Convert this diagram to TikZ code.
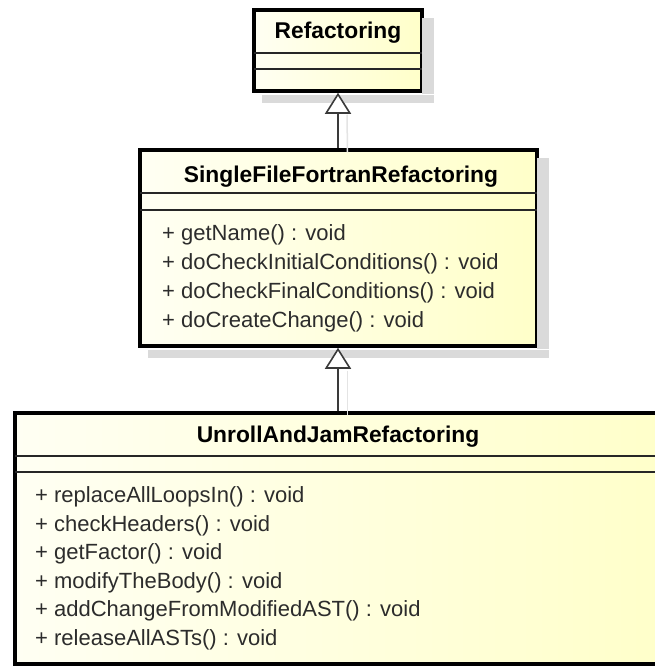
\documentclass[tikz,border=0pt]{standalone}
\usepackage{fontspec}
\setmainfont{Liberation Sans}
\usetikzlibrary{arrows.meta}

\definecolor{boxlight}{HTML}{FFFFF3}
\definecolor{boxdeep}{HTML}{FFFFC9}
\definecolor{shadowgray}{HTML}{DADADA}
\definecolor{faintgray}{HTML}{E4E4E4}
\definecolor{methtext}{HTML}{2C2C2C}
\definecolor{linkgray}{HTML}{3A3A3A}

\tikzset{
  classbox/.style={draw=black, line width=3.5pt, inner sep=0pt,
    left color=boxlight, right color=boxdeep},
  boxshadow/.style={fill=shadowgray},
  sepline/.style={draw=black!85, line width=1.4pt},
  classname/.style={font=\fontsize{22.8}{26}\selectfont\bfseries, text=black, inner sep=0pt},
  member/.style={font=\fontsize{22}{26}\selectfont, text=methtext, inner sep=0pt, anchor=west},
  generalization/.style={draw=linkgray, line width=2pt,
    -{Triangle[open, length=21pt, width=26pt, line width=1.6pt, fill=white]}},
  linkshadow/.style={draw=faintgray, line width=1.5pt}
}

\begin{document}
\begin{tikzpicture}[x=1pt, y=-1pt]
  \useasboundingbox (0,0) rectangle (655,667);
  \clip (0,0) rectangle (655,667);
  \fill[white] (0,0) rectangle (655,667);

  % class boxes
  \node[classbox, minimum width=168pt, minimum height=81pt] (ref) at (338,50.5) {};
  \node[classbox, minimum width=397pt, minimum height=196pt] (sf) at (338.5,248) {};
  \node[classbox, minimum width=660pt, minimum height=251pt] (ur) at (345,538.5) {};

  % drop shadows along the right and lower edges of the two upper boxes
  \fill[boxshadow] ([shift={(10,10)}]ref.north east) rectangle ([shift={(-1.5,1.5)}]ref.south east);
  \fill[boxshadow] ([shift={(10,1.8)}]ref.south west) rectangle ([shift={(10,10)}]ref.south east);
  \fill[boxshadow] ([shift={(10,10)}]sf.north east) rectangle ([shift={(-1.5,1.5)}]sf.south east);
  \fill[boxshadow] ([shift={(10,1.8)}]sf.south west) rectangle ([shift={(10,10)}]sf.south east);

  % Refactoring
  \node[classname] (refname) at (338,33) {Refactoring};
  \draw[sepline] (254,53) -- (422,53);
  \draw[sepline] (254,69) -- (422,69);

  % SingleFileFortranRefactoring
  \node[classname] (sfname) at (341,177) {SingleFileFortranRefactoring};
  \draw[sepline] (140,193) -- (537,193);
  \draw[sepline] (140,210) -- (537,210);
  \node[member] (sf1) at (162,235) {+ getName() : void};
  \node[member] (sf2) at (162,264) {+ doCheckInitialConditions() : void};
  \node[member] (sf3) at (162,293) {+ doCheckFinalConditions() : void};
  \node[member] (sf4) at (162,322) {+ doCreateChange() : void};

  % UnrollAndJamRefactoring
  \node[classname] (urname) at (338,437) {UnrollAndJamRefactoring};
  \draw[sepline] (15,456) -- (655,456);
  \draw[sepline] (15,472) -- (655,472);
  \node[member] (ur1) at (35,497) {+ replaceAllLoopsIn() : void};
  \node[member] (ur2) at (35,525.5) {+ checkHeaders() : void};
  \node[member] (ur3) at (35,554) {+ getFactor() : void};
  \node[member] (ur4) at (35,582.5) {+ modifyTheBody() : void};
  \node[member] (ur5) at (35,611) {+ addChangeFromModifiedAST() : void};
  \node[member] (ur6) at (35,640) {+ releaseAllASTs() : void};

  % faint shadows of the generalization links
  \draw[linkshadow] ([shift={(9,22)}]ref.south) -- ([shift={(9,4)}]sf.north);
  \draw[linkshadow] ([shift={(9,23)}]sf.south) -- ([shift={(9,4)}]ur.north -| sf.south);

  % generalization links
  \coordinate (urtop) at (ur.north -| ref.south);
  \draw[generalization] (sf.north -| ref.south) -- (ref.south);
  \draw[generalization] (urtop) -- (sf.south -| ref.south);
\end{tikzpicture}
\end{document}
